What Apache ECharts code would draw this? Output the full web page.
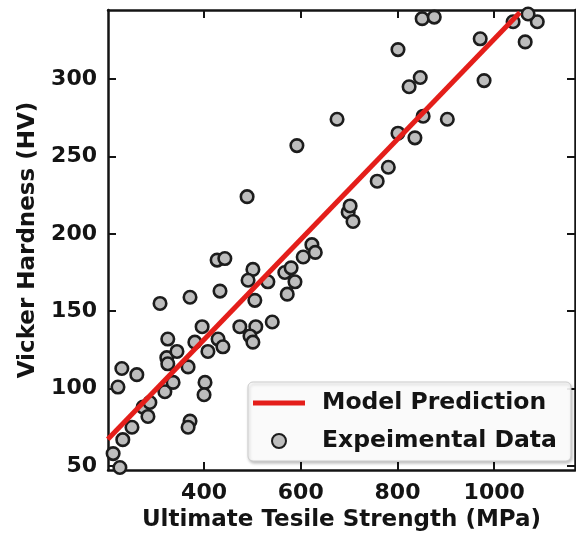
<!DOCTYPE html>
<html>
<head>
<meta charset="utf-8">
<script src="https://cdn.jsdelivr.net/npm/echarts@6/dist/echarts.min.js"></script>
<style>
  html, body { margin: 0; padding: 0; background: #ffffff; }
  #chart { width: 576px; height: 538px; }
</style>
</head>
<body>
<div id="chart"></div>
<script>
// Measured samples: ultimate tensile strength (MPa) and Vickers hardness (HV)
const utsValues = [
  212, 226, 232, 251, 274, 288, 284, 319, 336, 230,
  261, 222, 323, 325, 344, 367, 371, 367, 402, 400,
  309, 371, 433, 427, 443, 325, 396, 381, 408, 429,
  439, 474, 507, 541, 495, 501, 501, 491, 532, 567,
  580, 588, 572, 505, 605, 623, 630, 489, 592, 675,
  698, 702, 708, 758, 781, 801, 836, 853, 903, 801,
  824, 847, 851, 876, 971, 979, 1039, 1089, 1070, 1064
];
const hvValues = [
  58, 49, 67, 75, 88, 91, 82, 98, 104, 113,
  109, 101, 120, 116, 124, 114, 79, 75, 104, 96,
  155, 159, 163, 183, 184, 132, 140, 130, 124, 132,
  127, 140, 140, 143, 134, 130, 177, 170, 169, 175,
  178, 169, 161, 157, 185, 193, 188, 224, 257, 274,
  214, 218, 208, 234, 243, 265, 262, 276, 274, 319,
  295, 301, 339, 340, 326, 299, 337, 337, 342, 324
];

// Fitted model line end points
const modelUTS = [201, 1053];
const modelHV = [67.2, 343.0];

// Tick positions
const xTicks = [400, 600, 800, 1000];
const yTicks = [50, 100, 150, 200, 250, 300];

const FONT = 'DejaVu Sans';
const INK = '#141414';
const RED = '#e41e1a';

const chart = echarts.init(document.getElementById('chart'), null, { renderer: 'canvas' });

const frameLine = { show: true, onZero: false, lineStyle: { color: INK, width: 2.5 } };
function ticks(values) {
  return { show: true, inside: true, length: 8, customValues: values, lineStyle: { color: INK, width: 2 } };
}
const labelStyle = { fontFamily: FONT, fontSize: 22, fontWeight: 'bold', color: INK, formatter: v => String(v) };
const titleStyle = { fontFamily: FONT, fontSize: 23, fontWeight: 'bold', color: INK };

const X_MIN = 201.4, X_MAX = 1167;
const Y_MIN = 47.4, Y_MAX = 344.6;

chart.setOption({
  animation: false,
  backgroundColor: '#ffffff',
  grid: { left: 108, right: 1, top: 10, bottom: 68, containLabel: false },
  xAxis: [
    {
      type: 'value', position: 'bottom', min: X_MIN, max: X_MAX,
      axisLine: frameLine, axisTick: ticks(xTicks),
      axisLabel: Object.assign({ customValues: xTicks, margin: 12 }, labelStyle),
      splitLine: { show: false },
      name: 'Ultimate Tesile Strength (MPa)', nameLocation: 'middle', nameGap: 39,
      nameTextStyle: titleStyle
    },
    {
      type: 'value', position: 'top', min: X_MIN, max: X_MAX,
      axisLine: frameLine, axisTick: ticks(xTicks),
      axisLabel: { show: false }, splitLine: { show: false }
    }
  ],
  yAxis: [
    {
      type: 'value', position: 'left', min: Y_MIN, max: Y_MAX,
      axisLine: frameLine, axisTick: ticks(yTicks),
      axisLabel: Object.assign({ customValues: yTicks, margin: 11 }, labelStyle),
      splitLine: { show: false },
      name: 'Vicker Hardness (HV)', nameLocation: 'middle', nameGap: 68,
      nameTextStyle: titleStyle
    },
    {
      type: 'value', position: 'right', min: Y_MIN, max: Y_MAX,
      axisLine: frameLine, axisTick: ticks(yTicks),
      axisLabel: { show: false }, splitLine: { show: false }
    }
  ],
  legend: {
    data: [
      { name: 'Model Prediction', icon: 'path://M0,0L52,0L52,5L0,5Z' },
      { name: 'Expeimental Data' }
    ],
    orient: 'vertical',
    left: 248, top: 382,
    padding: [9, 14, 8, 5],
    itemWidth: 52, itemHeight: 14, itemGap: 14,
    backgroundColor: 'rgba(255,255,255,0.9)',
    borderColor: '#cccccc', borderWidth: 1, borderRadius: 5,
    shadowColor: 'rgba(0,0,0,0.25)', shadowBlur: 3, shadowOffsetX: 1, shadowOffsetY: 2,
    textStyle: { fontFamily: FONT, fontSize: 23.5, fontWeight: 'bold', color: INK, padding: [0, 0, 0, 12] }
  },
  series: [
    {
      name: 'Model Prediction',
      type: 'line',
      xAxisIndex: 0, yAxisIndex: 0,
      data: modelUTS.map((u, i) => [u, modelHV[i]]),
      symbol: 'none',
      lineStyle: { color: RED, width: 5 },
      itemStyle: { color: RED },
      z: 4
    },
    {
      name: 'Expeimental Data',
      type: 'scatter',
      xAxisIndex: 0, yAxisIndex: 0,
      data: utsValues.map((u, i) => [u, hvValues[i]]),
      symbol: 'circle',
      symbolSize: 12.5,
      itemStyle: { color: '#bdbdbd', borderColor: '#1c1c1c', borderWidth: 2.6, opacity: 1 },
      z: 3
    }
  ]
});
</script>
</body>
</html>
